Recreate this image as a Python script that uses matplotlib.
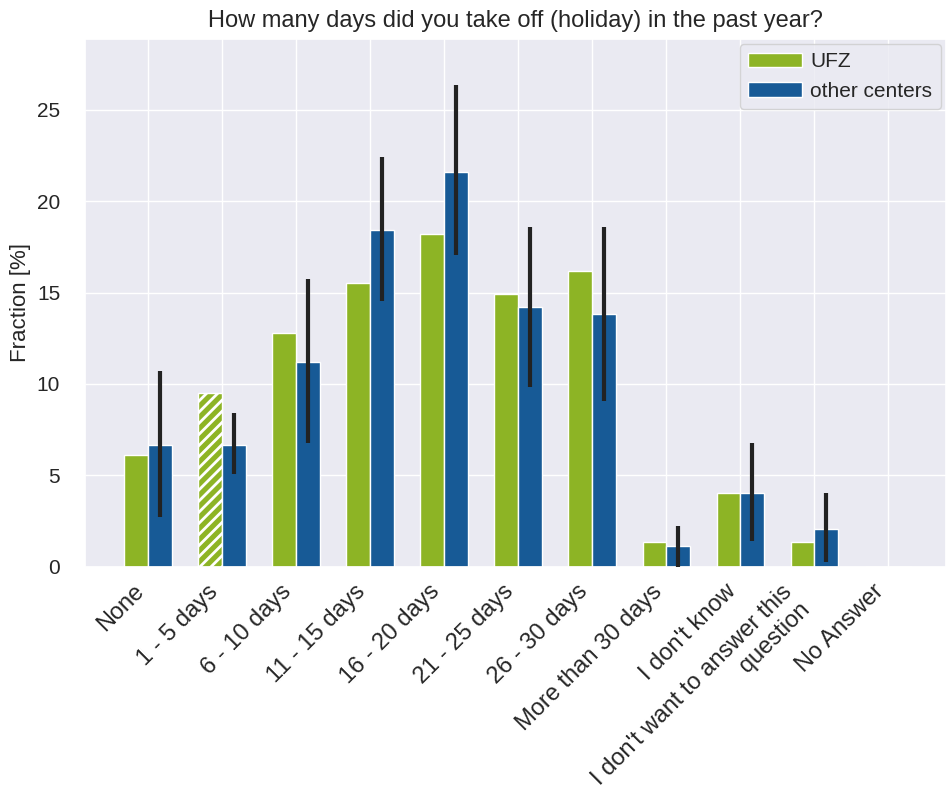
import numpy as np
import matplotlib
matplotlib.use('Agg')
import matplotlib.pyplot as plt
import seaborn as sns

sns.set_theme(style='darkgrid')
plt.rcParams['font.family'] = ['Liberation Sans', 'DejaVu Sans']
plt.rcParams['hatch.linewidth'] = 2.0
plt.rcParams['hatch.color'] = 'white'

# 카테고리 및 값
categories = ['None', '1 - 5 days', '6 - 10 days', '11 - 15 days', '16 - 20 days',
              '21 - 25 days', '26 - 30 days', 'More than 30 days', "I don't know",
              "I don't want to answer this\nquestion", 'No Answer']
ufz = [6.1, 9.5, 12.8, 15.5, 18.2, 14.9, 16.2, 1.35, 4.05, 1.35, 0.0]
other = [6.65, 6.65, 11.2, 18.4, 21.6, 14.2, 13.8, 1.15, 4.05, 2.05, 0.0]
err_low = [2.7, 5.05, 6.75, 14.55, 17.05, 9.85, 9.05, 0.0, 1.4, 0.25, 0.0]
err_high = [10.7, 8.4, 15.75, 22.4, 26.35, 18.6, 18.6, 2.25, 6.75, 4.05, 0.0]
hatched = [False, True, False, False, False, False, False, False, False, False, False]

green = '#8db425'
blue = '#175a96'

fig = plt.figure(figsize=(9.46, 7.87), dpi=100)
ax = fig.add_axes([0.09, 0.28, 0.91, 0.671])

x = np.arange(len(categories))
w = 0.32
bars = ax.bar(x - w / 2, ufz, w, color=green, edgecolor='white', linewidth=1, label='UFZ')
for b, h in zip(bars, hatched):
    if h:
        b.set_hatch('///')
ax.bar(x + w / 2, other, w, color=blue, edgecolor='white', linewidth=1, label='other centers')

other_arr = np.array(other)
yerr = [other_arr - np.array(err_low), np.array(err_high) - other_arr]
mask = other_arr > 0
ax.errorbar(x[mask] + w / 2, other_arr[mask], yerr=[yerr[0][mask], yerr[1][mask]],
            fmt='none', ecolor='#222222', elinewidth=3, capsize=0, zorder=5)

ax.set_xlim(-0.85, 10.78)
ax.set_ylim(0, 28.9)
ax.set_xticks(x)
ax.set_xticklabels(categories, rotation=45, ha='right', fontsize=17)
ax.tick_params(axis='y', labelsize=15, pad=12)
ax.tick_params(axis='x', pad=4)
ax.set_ylabel('Fraction [%]', fontsize=16)
ax.set_title('How many days did you take off (holiday) in the past year?', fontsize=17, pad=8)
ax.legend(loc='upper right', fontsize=15, handlelength=2.6, handletextpad=0.4,
          borderaxespad=0.25)

plt.savefig('out.png', dpi=100)
